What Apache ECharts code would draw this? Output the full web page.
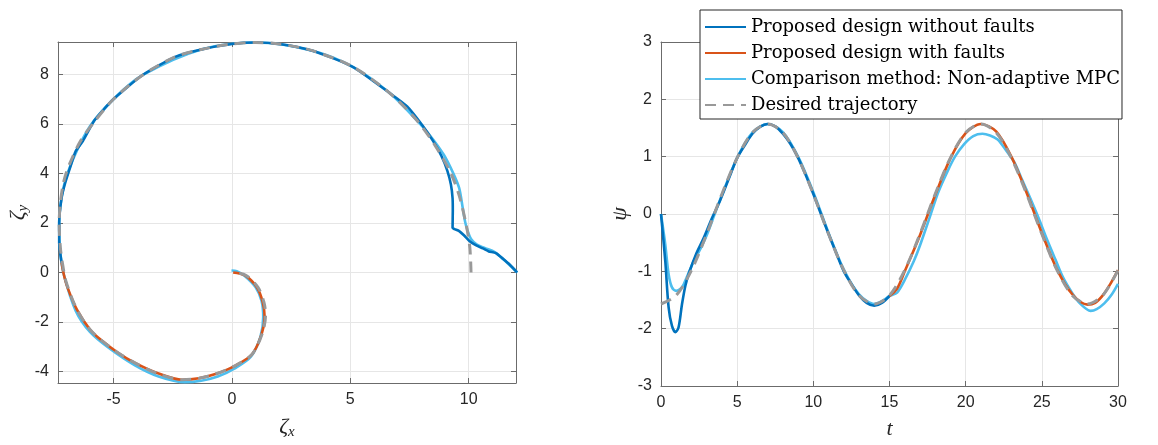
<!DOCTYPE html>
<html>
<head>
<meta charset="utf-8">
<script src="https://cdn.jsdelivr.net/npm/echarts@6/dist/echarts.min.js"></script>
<style>
html, body { margin: 0; padding: 0; background: #fff; }
#chart { width: 1158px; height: 445px; }
</style>
</head>
<body>
<div id="chart"></div>
<script>
const names = [
	"Proposed design without faults",
	"Proposed design with faults",
	"Comparison method: Non-adaptive MPC",
	"Desired trajectory",
];
const colors = ["#0072BD", "#D95319", "#4DBEEE", "#999999"];
// draw order: comparison at the bottom, desired on top
const layer = [3, 4, 2, 5];

// left panel: position (zeta_x, zeta_y)
const posNoFault = [
	[12.05, 0.0], [11.75, 0.3], [11.45, 0.55], [11.15, 0.78], [10.85, 0.85], [10.6, 0.97],
	[10.3, 1.1], [10.03, 1.27], [9.8, 1.5], [9.6, 1.67], [9.4, 1.75], [9.32, 1.8],
	[9.33, 2.5], [9.32, 3.0], [9.25, 3.55], [9.1, 4.1], [8.85, 4.7], [8.5, 5.3],
	[8.05, 5.93], [7.4, 6.7], [6.65, 7.25], [5.1, 8.3], [3.4, 8.95], [2.0, 9.22],
	[1.0, 9.28], [0.0, 9.22], [-1.3, 9.0], [-2.4, 8.7], [-3.8, 7.95], [-5.0, 7.0],
	[-5.8, 6.15], [-6.3, 5.3], [-6.6, 4.9], [-6.85, 4.2], [-7.05, 3.6], [-7.2, 3.0],
	[-7.3, 2.0], [-7.3, 1.2], [-7.2, 0.4],
];
const posFault = [
	[-7.2, 0.4], [-7.1, -0.1], [-6.95, -0.6], [-6.55, -1.5], [-6.0, -2.3], [-5.5, -2.75],
	[-4.8, -3.25], [-4.1, -3.65], [-3.1, -4.08], [-2.1, -4.33], [-1.4, -4.27], [-0.7, -4.1],
	[0.1, -3.78], [0.85, -3.3], [1.25, -2.5], [1.38, -1.8], [1.3, -1.2], [1.05, -0.6],
	[0.55, -0.12], [0.05, 0.0],
];
const posMpc = [
	[12.05, 0.0], [11.5, 0.5], [11.1, 0.82], [10.7, 0.98], [10.35, 1.12], [10.1, 1.35],
	[9.95, 1.7], [9.85, 2.05], [9.75, 2.6], [9.6, 3.4], [9.35, 4.0], [8.95, 4.75],
	[8.35, 5.55], [7.8, 6.15], [6.65, 7.25], [5.1, 8.3], [3.4, 8.95], [1.0, 9.28],
	[-1.3, 9.0], [-3.8, 7.95], [-5.0, 7.0], [-6.0, 5.9], [-6.7, 4.6], [-7.1, 3.5],
	[-7.3, 2.0], [-7.25, 0.8], [-7.1, -0.1], [-6.6, -1.55], [-6.0, -2.4], [-5.2, -3.05],
	[-4.1, -3.75], [-3.1, -4.2], [-2.0, -4.43], [-1.3, -4.37], [-0.6, -4.2], [0.1, -3.88],
	[0.8, -3.4], [1.2, -2.6], [1.32, -1.8], [1.25, -1.15], [1.0, -0.6], [0.55, -0.15],
	[0.2, 0.05], [-0.02, 0.08],
];
const posDesired = [
	[10.1, 0.0], [10.05, 1.0], [9.9, 1.9], [9.6, 3.1], [9.25, 4.0], [8.6, 5.1],
	[7.8, 6.15], [6.65, 7.25], [5.1, 8.3], [3.4, 8.95], [2.0, 9.22], [1.0, 9.28],
	[0.0, 9.22], [-1.3, 9.0], [-2.4, 8.7], [-3.8, 7.95], [-5.0, 7.0], [-5.8, 6.1],
	[-6.4, 5.3], [-6.85, 4.4], [-7.1, 3.7], [-7.25, 2.8], [-7.3, 2.0], [-7.25, 1.0],
	[-7.15, 0.3], [-7.0, -0.4], [-6.55, -1.5], [-6.0, -2.3], [-5.5, -2.75], [-4.8, -3.25],
	[-4.1, -3.65], [-3.1, -4.1], [-2.1, -4.33], [-1.4, -4.27], [-0.7, -4.1], [0.1, -3.78],
	[0.85, -3.3], [1.3, -2.4], [1.42, -1.7], [1.35, -1.2], [1.1, -0.6], [0.6, -0.12],
	[0.1, 0.0],
];

// right panel: heading psi over time t
const psiNoFault = [
	[0, 0], [0.28, -0.82], [0.5, -1.63], [0.72, -1.95], [0.95, -2.06], [1.15, -1.98],
	[1.38, -1.57], [1.6, -1.25], [1.85, -1.02], [2.3, -0.7], [2.8, -0.42], [3.3, -0.1],
	[3.9, 0.25], [4.5, 0.65], [5, 0.98], [5.5, 1.2], [6, 1.4], [6.5, 1.52], [7, 1.57],
	[7.5, 1.53], [8, 1.4], [8.5, 1.22], [9, 0.98], [9.5, 0.68], [10, 0.35], [10.5, 0.0],
	[11, -0.35], [11.5, -0.68], [12, -1.0], [12.5, -1.22], [13, -1.42], [13.5, -1.55],
	[14, -1.6], [14.5, -1.55], [15, -1.43],
];
const psiFault = [
	[15, -1.43], [15.5, -1.3], [16, -1.0], [17, -0.37], [18, 0.33], [19, 0.97], [20, 1.41],
	[21, 1.57], [22, 1.44], [23, 1.0], [24, 0.37], [25, -0.33], [26, -0.97], [27, -1.4],
	[28, -1.58], [28.5, -1.55], [29, -1.42], [29.5, -1.22], [30, -0.98],
];
const psiMpc = [
	[0, 0], [0.28, -0.53], [0.5, -1.05], [0.72, -1.28], [1.0, -1.34], [1.3, -1.3],
	[1.5, -1.22], [2.1, -0.85], [2.6, -0.6], [3.0, -0.37], [3.5, -0.02], [4, 0.33],
	[5, 0.98], [6, 1.42], [7, 1.57], [8, 1.43], [9, 1.0], [10, 0.38], [11, -0.33],
	[12, -0.97], [13, -1.4], [14, -1.57], [14.5, -1.52], [15, -1.43], [15.5, -1.37],
	[16, -1.15], [16.6, -0.82], [17, -0.55], [17.7, -0.01], [18.2, 0.38], [18.8, 0.74],
	[19.3, 1.0], [19.9, 1.22], [20.5, 1.36], [21.1, 1.4], [21.6, 1.37], [22.1, 1.3],
	[22.6, 1.13], [23.2, 0.9], [23.7, 0.6], [24.2, 0.3], [24.8, -0.08], [25.3, -0.42],
	[25.9, -0.8], [26.4, -1.11], [27, -1.38], [27.5, -1.56], [28.2, -1.69], [28.6, -1.66],
	[29.1, -1.56], [29.6, -1.4], [30, -1.22],
];
const tDesired = [0, 1, 2, 3, 4, 5, 6, 7, 8, 9, 10, 11, 12, 13, 14, 15, 16, 17, 18, 19, 20, 21, 22, 23, 24, 25, 26, 27, 28, 29, 30];
const psiDesiredVals = [
	-1.57, -1.42, -0.98, -0.35, 0.35, 0.98, 1.42, 1.57, 1.42, 0.98, 0.35, -0.35, -0.98, -1.42, -1.57,
	-1.42, -0.98, -0.35, 0.35, 0.98, 1.42, 1.57, 1.42, 0.98, 0.35, -0.35, -0.98, -1.42, -1.57, -1.42, -0.98,
];

const chart = echarts.init(document.getElementById("chart"), null, { renderer: "canvas" });

const axisColor = "#6b6b6b";
const labelStyle = { fontFamily: "Liberation Sans", fontSize: 16, color: "#262626" };
const nameRich = {
	g : { fontFamily: "Liberation Serif", fontStyle: "italic", fontSize: 22, color: "#262626" },
	s : { fontFamily: "Liberation Serif", fontStyle: "italic", fontSize: 15, color: "#262626", padding: [10, 0, 0, 0] },
};

function mainAxis(grid, pos, ext, opts) {
	return Object.assign({
		type         : "value",
		gridIndex    : grid,
		position     : pos,
		min          : ext[0],
		max          : ext[1],
		axisLine     : { show: true, onZero: false, lineStyle: { color: axisColor, width: 1 } },
		axisTick     : { show: true, inside: true, length: 5, lineStyle: { color: axisColor } },
		axisLabel    : Object.assign({ showMinLabel: false, showMaxLabel: false, margin: 9 }, labelStyle),
		splitLine    : { show: true, lineStyle: { color: "#e6e6e6", width: 1 } },
		nameLocation : "middle",
	}, opts);
}

function mirrorAxis(grid, pos, ext, opts) {
	return Object.assign({
		type      : "value",
		gridIndex : grid,
		position  : pos,
		min       : ext[0],
		max       : ext[1],
		axisLine  : { show: true, onZero: false, lineStyle: { color: axisColor, width: 1 } },
		axisTick  : { show: true, inside: true, length: 5, lineStyle: { color: axisColor } },
		axisLabel : { show: false },
		splitLine : { show: false },
	}, opts);
}

const zxExt = [-7.35, 12];
const zyExt = [-4.46, 9.3];

function line(idx, data, xi, yi, smooth) {
	const dashed = idx == 3;
	return {
		name       : names[idx],
		type       : "line",
		xAxisIndex : xi,
		yAxisIndex : yi,
		data       : data,
		showSymbol : false,
		symbol     : "none",
		smooth     : smooth,
		clip       : true,
		z          : layer[idx],
		color      : colors[idx],
		lineStyle  : {
			color : colors[idx],
			width : dashed ? 3 : 2.6,
			type  : dashed ? [11, 7] : "solid",
		},
	};
}

chart.setOption({
	animation : false,
	grid      : [
		{ left: 58, top: 42, width: 458, height: 348 },
		{ left: 661, top: 42, width: 457, height: 348 },
	],
	xAxis: [
		mainAxis(0, "bottom", zxExt, {
			splitNumber   : 4,
			name          : "{g|ζ}{s|x}",
			nameGap       : 32,
			nameTextStyle : { rich: nameRich },
		}),
		mirrorAxis(0, "top", zxExt, { splitNumber: 4 }),
		mainAxis(1, "bottom", [0, 30], {
			interval      : 5,
			axisLabel     : Object.assign({ margin: 9 }, labelStyle),
			name          : "{g|t}",
			nameGap       : 32,
			nameTextStyle : { rich: nameRich },
		}),
		mirrorAxis(1, "top", [0, 30], { interval: 5 }),
	],
	yAxis: [
		mainAxis(0, "left", zyExt, {
			splitNumber   : 6,
			name          : "{g|ζ}{s|y}",
			nameGap       : 27,
			nameRotate    : 90,
			nameTextStyle : { rich: nameRich },
		}),
		mirrorAxis(0, "right", zyExt, { splitNumber: 6 }),
		mainAxis(1, "left", [-3, 3], {
			interval      : 1,
			axisLabel     : Object.assign({ margin: 9 }, labelStyle),
			name          : "{g|ψ}",
			nameGap       : 30,
			nameRotate    : 90,
			nameTextStyle : { rich: nameRich },
		}),
		mirrorAxis(1, "right", [-3, 3], { interval: 1 }),
	],
	legend: {
		data            : names,
		orient          : "vertical",
		left            : 700,
		top             : 10,
		itemWidth       : 41,
		itemHeight      : 12,
		itemGap         : 8,
		padding         : [8, 2, 5, 4],
		backgroundColor : "#ffffff",
		borderColor     : "#262626",
		borderWidth     : 1,
		borderRadius    : 0,
		itemStyle       : { opacity: 0 },
		textStyle       : { fontFamily: "DejaVu Serif", fontSize: 18, color: "#000000" },
	},
	series: [
		line(0, posNoFault, 0, 0, 0.2),
		line(1, posFault, 0, 0, 0.3),
		line(2, posMpc, 0, 0, 0.3),
		line(3, posDesired, 0, 0, 0.3),
		line(0, psiNoFault, 2, 2, 0.3),
		line(1, psiFault, 2, 2, 0.3),
		line(2, psiMpc, 2, 2, 0.3),
		line(3, tDesired.map((t, i) => [t, psiDesiredVals[i]]), 2, 2, 0.3),
	],
});
</script>
</body>
</html>
